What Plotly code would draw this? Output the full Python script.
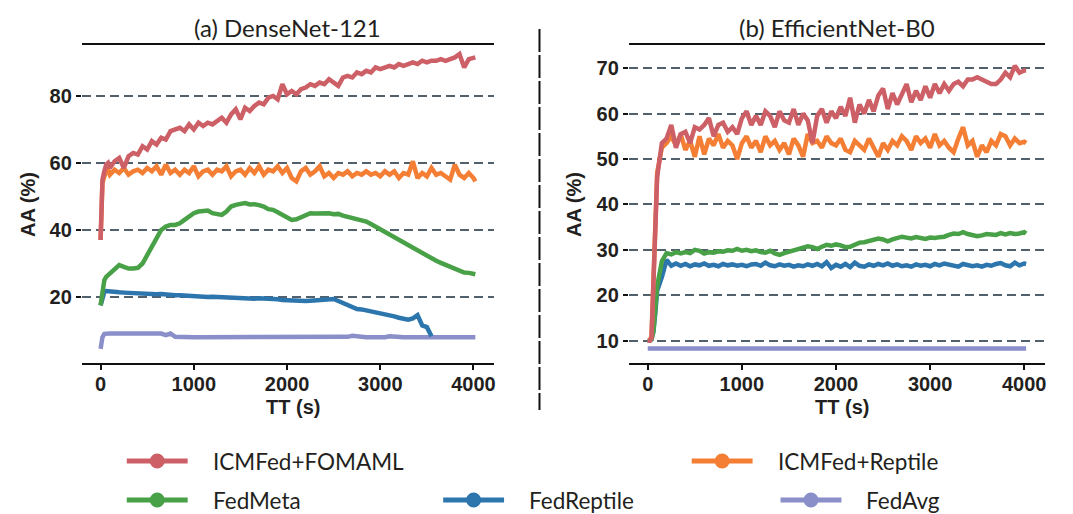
import plotly.graph_objects as go

# ---------------- data ----------------
TT = [0, 20, 40, 60, 80, 100] + list(range(150, 4001, 50)) + [4020]

SERIES_NAMES = ["ICMFed+FOMAML", "ICMFed+Reptile", "FedMeta", "FedReptile", "FedAvg"]
COLORS = ["#cd5f66", "#f47e34", "#48a047", "#2d75ad", "#8a8ec9"]

X_TICKS = [0, 1000, 2000, 3000, 4000]
Y_TICKS_A = [20, 40, 60, 80]
Y_TICKS_B = [10, 20, 30, 40, 50, 60, 70]
PANEL_TITLES = ["(a) DenseNet-121", "(b) EfficientNet-B0"]
X_LABEL = "TT (s)"
Y_LABEL = "AA (%)"

# (a) DenseNet-121
RED_A = [
    37, 55, 57.5, 59.5, 60, 58.5,
    60.5, 61.5, 58.5, 62, 63, 62.5, 65, 64, 66.5, 65.5,
    67.5, 67, 69.5, 70, 70.5, 69.5, 71.5, 70, 72, 71,
    72, 71.5, 72.5, 73.5, 72, 74.5, 76, 73, 76.5, 75.5,
    77, 78, 77.5, 79.5, 80, 79, 83.5, 80.5, 81.5, 80.5,
    82, 82.5, 83.5, 83, 84, 83.5, 85, 84, 83, 85.5,
    86, 85.5, 87, 86.5, 87.5, 87, 88.5, 88, 88.5, 89,
    88.5, 89.5, 89, 89.5, 90, 89.5, 90.5, 90, 90.5, 90.5,
    91, 90.5, 91, 91.5, 92.5, 88.5, 91, 91.5, 91.5,
]
ORANGE_A = [
    37, 54, 56, 57.5, 58, 56.5,
    58, 57, 58.5, 56.5, 57.5, 58, 57, 58.5, 57.5, 59,
    56.5, 59.5, 57, 58, 56.5, 58, 57, 59, 56, 57.5,
    58, 56.5, 58, 57.5, 59, 56, 57.5, 58, 56.5, 58.5,
    57, 59, 56.5, 58, 57.5, 59, 57, 58.5, 55.5, 54.5,
    57.5, 58.5, 56.5, 57.5, 59, 56, 57, 55.5, 57, 56.5,
    57.5, 56, 57, 56.5, 57.5, 56.5, 57, 56, 57.5, 56.5,
    57.5, 55.5, 57, 56.5, 60.5, 55.5, 57, 56, 58.5, 56.5,
    57, 56, 55, 59.5, 56.5, 55.5, 57, 55.5, 54.5,
]
GREEN_A = [
    17.5, 22, 25, 26, 26.5, 27,
    28, 29.5, 29, 28.5, 28.5, 28.7, 30, 32.5, 35, 37,
    40, 41, 41.5, 41.5, 42, 43, 44, 45, 45.5, 45.5,
    45.8, 45, 44.8, 44.5, 45.5, 47, 47.5, 47.8, 48, 47.6,
    47.7, 47.4, 47, 46.2, 46, 45.3, 44.5, 43.5, 43, 43.2,
    43.7, 44.5, 45, 44.9, 45, 44.8, 45, 44.7, 44.8, 44.3,
    44, 43.5, 43.3, 43, 42.5, 41.8, 41, 40.2, 39.3, 38.7,
    38, 37, 36.2, 35.5, 34.6, 33.8, 33, 32.2, 31.3, 30.8,
    30.2, 29.6, 29, 28.3, 27.8, 27.3, 27.2, 27, 26.8,
]
BLUE_A = [
    17.5, 20, 21.5, 21.8, 21.7, 21.6,
    21.5, 21.4, 21.3, 21.2, 21.2, 21.0, 21.1, 20.9, 20.9, 20.8,
    20.9, 20.7, 20.6, 20.5, 20.5, 20.4, 20.3, 20.1, 20.1, 20.2,
    20.0, 20.1, 20.0, 20.0, 19.9, 20.0, 19.9, 19.8, 19.7, 19.6,
    19.5, 19.6, 19.6, 19.5, 19.5, 19.3, 19.1, 19.0, 18.9, 18.9,
    18.8, 18.8, 18.9, 19.0, 19.2, 19.4, 19.6, 19.4, 18.8, 18.2,
    17.5, 16.9, 16.4, 16.3, 16.0, 15.8, 15.6, 15.4, 15.1, 14.6,
    14.2, 13.8, 13.4, 13.2, 13.6, 14.6, 11.5, 11.0, 8.3, None,
    None, None, None, None, None, None, None, None, None,
]
LAV_A = [
    4.5, 8.0, 9.0, 9.1, 9.1, 9.1,
    9.1, 9.1, 9.1, 9.1, 9.1, 9.1, 9.1, 9.1, 9.1, 9.1,
    9.1, 8.6, 9.1, 8.1, 8.0, 8.0, 8.0, 8.0, 8.0, 8.0,
    8.0, 8.0, 8.0, 8.0, 8.0, 8.0, 8.0, 8.0, 8.0, 8.0,
    8.0, 8.0, 8.0, 8.0, 8.0, 8.0, 8.0, 8.0, 8.0, 8.0,
    8.0, 8.0, 8.0, 8.0, 8.0, 8.0, 8.0, 8.0, 8.1, 8.2,
    8.1, 8.4, 8.2, 8.0, 8.0, 8.0, 8.0, 7.7, 8.0, 8.3,
    8.1, 8.2, 8.0, 8.0, 8.1, 8.0, 8.0, 8.0, 8.0, 8.0,
    8.0, 8.0, 8.0, 8.0, 8.0, 8.0, 8.0, 8.0, 8.0,
]

# (b) EfficientNet-B0
RED_B = [
    10, 10, 10.5, 22, 38, 46,
    53.5, 54.5, 57.5, 52.5, 55.5, 56, 53.5, 57, 56.5, 57.5,
    59, 55, 57.5, 58, 56, 57, 55.5, 59, 60.5, 57.5,
    59.5, 57.5, 60.5, 59.5, 57, 60.5, 58.5, 58, 61, 57.5,
    60, 58.5, 53.5, 59.5, 61, 58, 60.5, 59, 61.5, 59.5,
    63.5, 58, 62, 60, 63, 60.5, 64, 65.5, 61, 64.5,
    62, 64.5, 66.5, 62.5, 65, 63, 66, 63.5, 66.5, 64.5,
    66.5, 65, 66.5, 67, 66, 67.5, 67.5, 68, 67.5, 67,
    66.5, 66.5, 67.5, 69, 68, 70.5, 69, 69.5, 69.5,
]
ORANGE_B = [
    10, 10, 11, 25, 40, 47,
    52.5, 53.5, 55, 53, 55.5, 52, 54, 50.5, 55, 51,
    54.5, 53, 55.5, 52.5, 54, 53, 50, 53.5, 55, 52.5,
    54, 51.5, 55, 53, 54, 52, 53.5, 51, 54.5, 53,
    50.5, 55.5, 53.5, 54, 52.5, 55, 53.5, 53, 54.5, 52,
    51.5, 54, 53, 52, 54.5, 52.5, 50.5, 53.5, 52, 54,
    53, 55, 54, 52, 55, 53.5, 54.5, 52.5, 55.5, 53,
    54, 52.5, 51.5, 54.5, 57, 53, 54, 50.5, 53, 51.5,
    54, 53, 55.5, 55, 53, 54.5, 53.5, 53.8, 53.5,
]
GREEN_B = [
    10, 10, 10.3, 12, 17, 22,
    27.5, 29.3, 29, 29.5, 29.2, 29.5, 29.3, 30, 29.8, 29.2,
    29.5, 29.4, 29.7, 29.6, 29.9, 29.8, 30.2, 29.8, 30, 29.7,
    29.9, 29.5, 29.4, 29.8, 29.2, 28.9, 29.3, 29.6, 30, 30.2,
    30.5, 30.8, 30.6, 30.2, 30.7, 31.1, 30.9, 31.2, 31, 30.6,
    30.7, 31.2, 31.6, 31.7, 32, 32.1, 32.5, 32.3, 31.9, 32.3,
    32.6, 32.9, 32.7, 32.5, 32.8, 32.6, 32.4, 32.7, 32.6, 32.8,
    32.9, 33.3, 33.6, 33.5, 33.9, 33.5, 33.2, 33.0, 33.2, 33.5,
    33.4, 33.3, 33.7, 33.4, 33.7, 33.5, 33.6, 33.9, 33.6,
]
BLUE_B = [
    10, 10, 10.3, 12, 16, 21,
    24, 27.8, 26.5, 27, 26.5, 26.9, 26.4, 26.8, 26.6, 27,
    26.5, 26.7, 26.4, 26.9, 26.6, 26.8, 26.5, 26.7, 26.4, 26.8,
    26.9, 26.5, 27.2, 26.6, 26.4, 26.8, 26.5, 26.7, 26.3, 26.6,
    26.4, 26.8, 26.5, 26.9, 26.4, 27.3, 26.0, 26.7, 26.3, 26.9,
    26.2, 27.2, 26.5, 26.3, 26.8, 26.5, 26.9, 26.6, 27.0, 26.5,
    26.8, 26.4, 26.6, 26.3, 26.8, 26.5, 26.7, 26.4, 26.9, 26.6,
    27.0, 26.8, 26.5, 26.3, 26.9, 26.7, 26.4, 26.6, 26.3, 26.7,
    26.5, 26.9, 27.1, 26.6, 26.4, 27.2, 26.6, 27.0, 26.9,
]
LAV_B = [
    8.3, 8.3, 8.3, 8.3, 8.3, 8.3,
    8.3, 8.3, 8.3, 8.3, 8.3, 8.3, 8.3, 8.3, 8.3, 8.3,
    8.3, 8.3, 8.3, 8.3, 8.3, 8.3, 8.3, 8.3, 8.3, 8.3,
    8.3, 8.3, 8.3, 8.3, 8.3, 8.3, 8.3, 8.3, 8.3, 8.3,
    8.3, 8.3, 8.3, 8.3, 8.3, 8.3, 8.3, 8.3, 8.3, 8.3,
    8.3, 8.3, 8.3, 8.3, 8.3, 8.3, 8.3, 8.3, 8.3, 8.3,
    8.3, 8.3, 8.3, 8.3, 8.3, 8.3, 8.3, 8.3, 8.3, 8.3,
    8.3, 8.3, 8.3, 8.3, 8.3, 8.3, 8.3, 8.3, 8.3, 8.3,
    8.3, 8.3, 8.3, 8.3, 8.3, 8.3, 8.3, 8.3, 8.3,
]

PANEL_A = [RED_A, ORANGE_A, GREEN_A, BLUE_A, LAV_A]
PANEL_B = [RED_B, ORANGE_B, GREEN_B, BLUE_B, LAV_B]
for s in PANEL_A + PANEL_B:
    assert len(s) == len(TT), len(s)

# ---------------- styling ----------------
W, H = 1073, 514
TICK_FONT = "Liberation Sans Narrow, Arial Narrow, Liberation Sans, Arial, sans-serif"
TEXT_FONT = "Lato, Open Sans, sans-serif"
INK = "#231f20"
GRID = "#52606b"


def px(p):
    return p / W


def py(p):
    return 1 - p / H


fig = go.Figure()

for axis_suffix, panel in (("", PANEL_A), ("2", PANEL_B)):
    # draw bottom-most first so the red series is on top
    for i in reversed(range(len(SERIES_NAMES))):
        fig.add_trace(go.Scatter(
            x=TT, y=panel[i], mode="lines", name=SERIES_NAMES[i],
            line=dict(color=COLORS[i], width=4.5),
            xaxis="x" + axis_suffix, yaxis="y" + axis_suffix,
            showlegend=False, hoverinfo="skip", connectgaps=False,
        ))

tickfont = dict(family=TICK_FONT, size=20, color=INK, weight="bold")

common_x = dict(range=[-201, 4221], tickvals=X_TICKS, ticks="outside", ticklen=5,
                tickwidth=2, tickcolor="#111", showline=True, linecolor="#111",
                linewidth=2, mirror=True, showgrid=False, zeroline=False,
                tickfont=tickfont, ticklabelstandoff=-3)
common_y = dict(ticks="outside", ticklen=5, tickwidth=2, tickcolor="#111",
                showline=False, showgrid=True, gridcolor=GRID, gridwidth=2,
                griddash="9px,5px", zeroline=False, tickfont=tickfont)

Y_TOP, Y_BOT = 45, 363
A_L, A_R = 82, 495
B_L, B_R = 630, 1047

fig.update_layout(
    width=W, height=H,
    margin=dict(l=0, r=0, t=0, b=0),
    paper_bgcolor="white", plot_bgcolor="white",
    showlegend=False,
    xaxis=dict(domain=[px(A_L), px(A_R)], anchor="y", **common_x),
    yaxis=dict(domain=[py(Y_BOT), py(Y_TOP)], anchor="x", range=[0.3, 95.2],
               tickvals=Y_TICKS_A, **common_y),
    xaxis2=dict(domain=[px(B_L), px(B_R)], anchor="y2", **common_x),
    yaxis2=dict(domain=[py(Y_BOT), py(Y_TOP)], anchor="x2", range=[5.1, 75.1],
                tickvals=Y_TICKS_B, **common_y),
)

annotations = []
shapes = []

# panel titles and axis labels
for (l, r), title, ylab_x in (((A_L, A_R), PANEL_TITLES[0], 28),
                              ((B_L, B_R), PANEL_TITLES[1], 575)):
    cx = (l + r) / 2
    annotations.append(dict(text=title, x=px(cx), y=py(27), xref="paper", yref="paper",
                            xanchor="center", yanchor="middle", showarrow=False,
                            font=dict(family=TEXT_FONT, size=24, color=INK)))
    annotations.append(dict(text=X_LABEL, x=px(cx + 5), y=py(407), xref="paper", yref="paper",
                            xanchor="center", yanchor="middle", showarrow=False,
                            font=dict(family=TICK_FONT, size=20, color=INK, weight="bold")))
    annotations.append(dict(text=Y_LABEL, x=px(ylab_x), y=py((Y_TOP + Y_BOT) / 2),
                            xref="paper", yref="paper", textangle=-90,
                            xanchor="center", yanchor="middle", showarrow=False,
                            font=dict(family=TICK_FONT, size=20, color=INK, weight="bold")))

# dashed separator
shapes.append(dict(type="line", xref="paper", yref="paper",
                   x0=px(540.5), x1=px(540.5), y0=py(29), y1=py(410),
                   line=dict(color="#111", width=2, dash="23px,3px")))

# legend (manual)
LEG_POS = [(127, 461), (693, 461), (127, 500), (444, 500), (782, 500)]
for (lx, ly), name, col in zip(LEG_POS, SERIES_NAMES, COLORS):
    shapes.append(dict(type="line", xref="paper", yref="paper",
                       x0=px(lx), x1=px(lx + 61), y0=py(ly), y1=py(ly),
                       line=dict(color=col, width=5)))
    cx = lx + 30.5
    shapes.append(dict(type="circle", xref="paper", yref="paper",
                       x0=px(cx - 7.5), x1=px(cx + 7.5), y0=py(ly + 7.5), y1=py(ly - 7.5),
                       fillcolor=col, line=dict(width=0)))
    annotations.append(dict(text=name, x=px(lx + 84), y=py(ly), xref="paper", yref="paper",
                            xanchor="left", yanchor="middle", showarrow=False,
                            font=dict(family=TEXT_FONT, size=22.5, color=INK)))

fig.update_layout(annotations=annotations, shapes=shapes)

fig.write_html("out.html")
